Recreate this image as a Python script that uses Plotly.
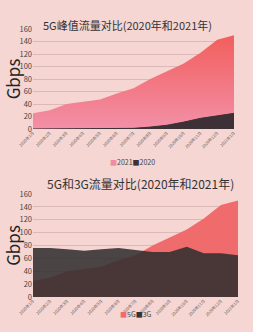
import plotly.graph_objects as go

months = ["2020年1月","2020年2月","2020年3月","2020年4月","2020年5月","2020年6月",
          "2020年7月","2020年8月","2020年9月","2020年10月","2020年11月","2020年12月","2021年1月"]
peak_2021 = [25, 30, 40, 44, 47, 57, 65, 80, 93, 105, 122, 143, 150]
peak_2020 = [0, 0, 0, 0, 0, 0, 1, 3, 6, 11, 17, 21, 25]
traffic_5g = [25, 30, 40, 44, 47, 57, 65, 80, 93, 105, 122, 143, 150]
traffic_3g = [76, 76, 74, 72, 74, 76, 73, 70, 70, 78, 68, 68, 65]
yticks = [0, 20, 40, 60, 80, 100, 120, 140, 160]

W, H = 253, 332
BG = "#f5d6d3"
FONT = "Noto Sans CJK SC, Noto Sans, sans-serif"
C2021 = "#f28aa2"
C2020 = "#3d3036"
C5G = "#f06c6c"
C3G = "#353333"

def px_x(a, b):
    return [a / W, b / W]

def px_y(top, bottom):
    return [1 - bottom / H, 1 - top / H]

fig = go.Figure()

fig.add_trace(go.Scatter(
    x=months, y=peak_2021, name="2021", mode="lines", line=dict(width=0, color="#f26b6f"),
    fill="tozeroy",
    fillgradient=dict(type="vertical", colorscale=[[0, "#f290a8"], [1, "#f25e5c"]]),
    xaxis="x", yaxis="y", showlegend=False))
fig.add_trace(go.Scatter(
    x=months, y=peak_2020, name="2020", mode="lines", line=dict(width=1, color=C2020),
    fill="tozeroy", fillcolor=C2020, xaxis="x", yaxis="y", showlegend=False))

fig.add_trace(go.Scatter(
    x=months, y=traffic_5g, name="5G", mode="lines", line=dict(width=0, color=C5G),
    fill="tozeroy", fillcolor=C5G, xaxis="x2", yaxis="y2", showlegend=False))
fig.add_trace(go.Scatter(
    x=months, y=traffic_3g, name="3G", mode="lines", line=dict(width=0, color=C3G),
    fill="tozeroy", fillcolor="rgba(48,46,46,0.87)", xaxis="x2", yaxis="y2", showlegend=False))

axis_common = dict(
    showgrid=True, gridcolor="rgba(190,150,150,0.45)", gridwidth=1,
    zeroline=False, showline=False, automargin=False,
    tickfont=dict(size=7.5, color="#444", family=FONT),
)
xcommon = dict(
    showgrid=False, zeroline=False, showline=False, automargin=False,
    tickangle=-45, tickfont=dict(size=4, color="#555", family=FONT), ticks="",
    tickmode="array", tickvals=months, ticktext=months,
)
ytitle = dict(text="Gbps", font=dict(size=17, color="#222", family=FONT), standoff=6)

fig.update_layout(
    width=W, height=H,
    margin=dict(l=0, r=0, t=0, b=0),
    paper_bgcolor=BG, plot_bgcolor=BG,
    font=dict(family=FONT, color="#333"),
    xaxis=dict(domain=px_x(33, 234), anchor="y", **xcommon),
    yaxis=dict(domain=px_y(29, 129), anchor="x", range=[0, 160], tickvals=yticks,
               title=ytitle, **axis_common),
    xaxis2=dict(domain=px_x(33, 238), anchor="y2", **xcommon),
    yaxis2=dict(domain=px_y(194, 297), anchor="x2", range=[0, 160], tickvals=yticks,
                title=ytitle, **axis_common),
    annotations=[
        dict(text="5G峰值流量对比(2020年和2021年)", x=128 / W, y=1 - 15 / H, xref="paper", yref="paper",
             showarrow=False, font=dict(size=11, color="#333", family=FONT)),
        dict(text="5G和3G流量对比(2020年和2021年)", x=140 / W, y=1 - 183 / H, xref="paper", yref="paper",
             showarrow=False, font=dict(size=12, color="#333", family=FONT)),
        dict(text=f"<span style='color:{C2021}'>■</span>2021<span style='color:{C2020}'>■</span>2020",
             x=132 / W, y=1 - 162 / H, xref="paper", yref="paper", showarrow=False,
             font=dict(size=7, color="#444", family=FONT)),
        dict(text=f"<span style='color:{C5G}'>■</span>5G<span style='color:{C3G}'>■</span>3G",
             x=136 / W, y=1 - 321 / H, xref="paper", yref="paper", showarrow=False,
             font=dict(size=7, color="#444", family=FONT)),
    ],
)

fig.write_html("out.html")
